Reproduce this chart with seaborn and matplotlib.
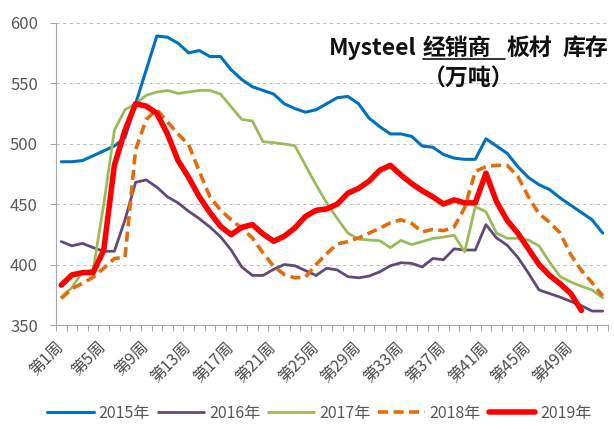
import numpy as np
import pandas as pd
import matplotlib
matplotlib.use('Agg')
import matplotlib.pyplot as plt
import seaborn as sns
from matplotlib.lines import Line2D

# ---------------------------------------------
# Data: weekly plate inventory at distributors (10k tonnes)
# ---------------------------------------------
weeks = list(range(1, 53))
tick_weeks = list(range(1, 50, 4))
tick_labels = ['第%d周' % w for w in tick_weeks]
years = ['2015年', '2016年', '2017年', '2018年', '2019年']

inv_2015 = [485, 485, 486, 490, 494, 498, 505, 533, 561, 589,
            588, 583, 575, 577, 572, 572, 561, 553, 547, 544,
            541, 533, 529, 526, 528, 533, 538, 539, 533, 521,
            514, 508, 508, 506, 498, 497, 491, 488, 487, 487,
            504, 498, 492, 481, 472, 466, 462, 455, 449, 443,
            437, 426]
inv_2016 = [419, 415.5, 417.5, 414, 411, 411, 437, 468, 470, 464,
            456, 451, 444, 438, 431, 423, 412, 398, 391, 391,
            396, 400, 399, 395, 391, 397, 395.5, 390, 389, 390.5,
            394, 399, 401.5, 401, 398, 405, 404, 413, 412, 412,
            433, 422, 416, 406, 393, 379, 376, 373, 369.5, 366,
            361.5, 361.5]
inv_2017 = [373, 381, 394, 395.5, 450, 511, 528, 533, 540, 542.6,
            544, 541.5, 542.7, 544, 544, 541, 530.5, 520, 518.7, 501.6,
            500.8, 499.7, 498.3, 482, 466, 451, 438, 426, 421, 420.3,
            419.7, 414, 420, 416.5, 419, 421.6, 422.7, 424.3, 410.6, 448,
            443.7, 426, 421.7, 421.7, 420.3, 415.4, 402, 390, 385.5, 382,
            379, 372.4]
inv_2018 = [372, 380, 384.5, 389.5, 397, 405, 406, 495, 520, 528,
            518, 508, 499, 477, 456, 445, 437, 430, 422, 409.6,
            398.6, 391.8, 389, 389.6, 400, 409, 417, 419, 422, 426,
            430, 434.5, 437, 434, 427, 429, 428, 431, 447, 477,
            481, 482, 482, 473, 456, 442, 435, 426, 408, 395,
            385, 374]
inv_2019 = [383, 391.4, 393.3, 393.3, 412, 482, 511, 533, 531, 525,
            508, 486, 472, 456, 443, 431.6, 424.7, 430.8, 433, 425.3,
            419.2, 423.4, 430.2, 439.8, 444.8, 446, 450, 459, 463, 469,
            478, 482, 474, 467, 461, 456, 450, 453.5, 451, 451,
            475.5, 452, 436.5, 426, 413, 400, 391, 384, 376, 362,
            np.nan, np.nan]

colors = ['#0070C0', '#604A7B', '#9BBB59', '#E46C0A', '#FF0000']
widths = [2.2, 2.0, 2.0, 2.6, 4.0]

df = pd.DataFrame({'week': weeks, '2015年': inv_2015, '2016年': inv_2016,
                   '2017年': inv_2017, '2018年': inv_2018, '2019年': inv_2019})
df = df.melt(id_vars='week', var_name='year', value_name='value')

# ---------------------------------------------
# Plot
# ---------------------------------------------
sns.set_theme(style='white')
plt.rcParams['font.family'] = ['Noto Sans CJK SC', 'DejaVu Sans']

fig = plt.figure(figsize=(6.14, 4.29), dpi=100)
ax = fig.add_axes([56 / 614, 1 - 325 / 429, 552 / 614, (325 - 22.7) / 429])

for yr, c, lw in zip(years, colors, widths):
    sub = df[df['year'] == yr]
    sns.lineplot(data=sub, x='week', y='value', color=c, linewidth=lw,
                 ax=ax, label=yr, legend=False, errorbar=None)
ax.lines[3].set_dashes((2.8, 1.5))

ax.set_xlim(0.5, 52.5)
ax.set_ylim(350, 600)
ax.set_yticks(range(350, 601, 50))
ax.set_xticks(tick_weeks)
ax.set_xticklabels(tick_labels)
ax.set_xticks(np.arange(0.5, 53, 1), minor=True)
ax.set_xlabel('')
ax.set_ylabel('')

ax.yaxis.grid(True, linestyle=(0, (3, 3)), color='#BFBFBF', linewidth=0.8)
ax.set_axisbelow(True)
for s in ['top', 'right']:
    ax.spines[s].set_visible(False)
for s in ['left', 'bottom']:
    ax.spines[s].set_color('#A6A6A6')
    ax.spines[s].set_linewidth(0.8)

ax.tick_params(axis='y', which='major', left=True, length=4, width=0.8,
               color='#A6A6A6', labelsize=12, labelcolor='#595959', pad=9)
ax.tick_params(axis='x', which='major', bottom=True, length=0,
               labelsize=11.5, labelcolor='#4D4D4D', pad=14)
ax.tick_params(axis='x', which='minor', bottom=True, length=4, width=0.8,
               color='#A6A6A6')
for lbl in ax.get_xticklabels():
    lbl.set_rotation(45)
    lbl.set_ha('right')
    lbl.set_va('center')
    lbl.set_rotation_mode('anchor')

# title pieces
tkw = dict(fontsize=16.5, va='baseline', ha='left', color='#111111', weight='bold')
fig.text(329 / 614, 1 - 55 / 429, 'Mysteel', **tkw)
fig.text(423 / 614, 1 - 55 / 429, '经销商', **tkw)
fig.text(507 / 614, 1 - 55 / 429, '板材', style='italic', **tkw)
fig.text(562 / 614, 1 - 55 / 429, '库存', **tkw)
fig.add_artist(Line2D([423 / 614, 505 / 614], [1 - 59 / 429] * 2,
                      color='#111111', lw=1.2, transform=fig.transFigure))
fig.text(469 / 614, 1 - 86 / 429, '（万吨）', fontsize=16.5, va='baseline',
         ha='center', color='#111111', weight='bold')

handles, labels = ax.get_legend_handles_labels()
leg = fig.legend(handles, labels, loc='center', bbox_to_anchor=(0.52, 0.037),
                 ncol=5, frameon=False, fontsize=11.5, handlelength=2.9,
                 handletextpad=0.3, columnspacing=0.5, borderpad=0.1)
for t in leg.get_texts():
    t.set_color('#595959')

fig.savefig('out.png', dpi=100)
